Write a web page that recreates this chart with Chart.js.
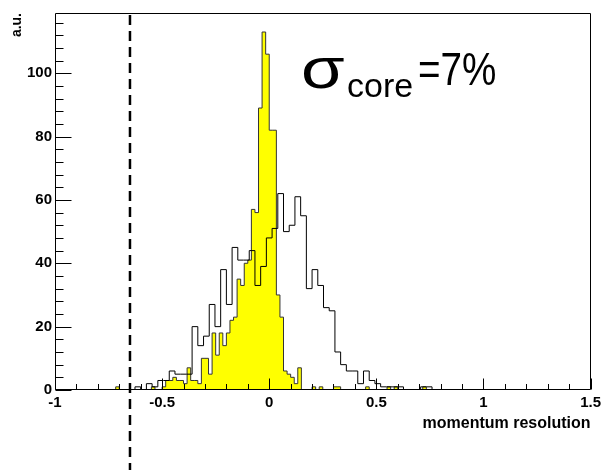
<!DOCTYPE html>
<html>
<head>
<meta charset="utf-8">
<script src="https://cdn.jsdelivr.net/npm/chart.js@4/dist/chart.umd.min.js"></script>
<style>
    html, body { margin: 0; padding: 0; background: #fff; }
    canvas { display: block; }
</style>
</head>
<body>
<canvas id="resChart" width="605" height="470"></canvas>
<script>
(function () {
    // filled histogram: 120 bins of width 1/60 between -1 and 1
    const filledRange = [-1, 1];
    const filledCounts = [
        0, 0, 0, 0, 0, 0, 0, 0, 0, 0,
        0, 0, 0, 0, 0, 0, 0, 1, 0, 0,
        0, 0, 0, 0, 0, 0, 0, 1, 0, 0,
        1, 3, 3, 4, 3, 3, 2, 7, 3, 3,
        2, 10, 10, 5, 18, 11, 18, 14, 18, 22,
        23, 35, 33, 40, 41, 57, 56, 89, 113, 106,
        82, 82, 30, 23, 6, 5, 4, 2, 7, 0,
        0, 0, 1, 0, 1, 0, 0, 0, 1, 1,
        0, 0, 0, 0, 0, 0, 0, 1, 0, 0,
        0, 0, 0, 1, 0, 1, 0, 0, 0, 0,
        0, 0, 0, 1, 0, 0, 0, 0, 0, 0,
        0, 0, 0, 0, 0, 0, 0, 0, 0, 0
    ];

    // open histogram: 75 bins between -1 and 1
    const outlineRange = [-1, 1];
    const outlineCounts = [
        0, 0, 0, 0, 0, 0, 0, 0, 0, 0,
        0, 0, 0, 0, 1, 0, 2, 1, 3, 3,
        6, 5, 5, 5, 20, 14, 17, 27, 20, 38,
        27, 45, 41, 41, 44, 33, 39, 48, 51, 62,
        50, 52, 61, 55, 32, 38, 33, 26, 25, 12,
        8, 6, 6, 2, 6, 3, 2, 1, 1, 1,
        1, 0, 0, 0, 1, 1, 0, 0, 0, 0,
        0, 0, 0, 0, 0
    ];

    const xTickValues = [-1, -0.5, 0, 0.5, 1, 1.5];
    const xTickLabels = ["-1", "-0.5", "0", "0.5", "1", "1.5"];
    const yTickValues = [0, 20, 40, 60, 80, 100];
    const yTickLabels = ["0", "20", "40", "60", "80", "100"];

    const X_MIN = -1, X_MAX = 1.5, Y_MAX = 119;
    const cutValue = -0.65;

    const FONT = "'Liberation Sans', Arial, Helvetica, sans-serif";

    // turn bin contents into step points (left edge of each bin, closing at the upper edge)
    function stepPoints(counts, range) {
        const w = (range[1] - range[0]) / counts.length;
        const pts = [{ x: range[0], y: 0 }];
        counts.forEach((c, i) => pts.push({ x: range[0] + i * w, y: c }));
        pts.push({ x: range[1], y: 0 });
        return pts;
    }

    function labelFor(values, labels) {
        return v => {
            const k = values.findIndex(t => Math.abs(t - v) < 1e-6);
            return k >= 0 ? labels[k] : "";
        };
    }

    // text squeezed or stretched horizontally
    function scaledText(ctx, text, x, y, sx) {
        ctx.save();
        ctx.translate(x, y);
        ctx.scale(sx, 1);
        ctx.fillText(text, 0, 0);
        ctx.restore();
    }

    const decor = {
        id: "decor",
        afterDatasetsDraw(chart) {
            const { ctx, chartArea: a, scales } = chart;
            const xs = scales.x, ys = scales.y;
            const L = Math.round(a.left) + 0.5;
            const R = Math.round(a.right) - 0.5;
            const T = Math.round(a.top) + 0.5;
            const B = Math.round(a.bottom) - 0.5;

            ctx.save();
            ctx.strokeStyle = "#000";
            ctx.lineWidth = 1;

            // frame
            ctx.beginPath();
            ctx.moveTo(L, T); ctx.lineTo(R, T); ctx.lineTo(R, B); ctx.lineTo(L, B); ctx.closePath();
            ctx.stroke();

            // y ticks, pointing inwards
            ctx.beginPath();
            for (let v = 0; v <= Y_MAX; v += 4) {
                const py = Math.round(ys.getPixelForValue(v)) + 0.5;
                const len = v % 20 === 0 ? 16 : 8;
                ctx.moveTo(L, py); ctx.lineTo(L + len, py);
            }
            // x ticks
            for (let i = 0; i <= 25; i++) {
                const v = X_MIN + i * 0.1;
                const px = Math.round(xs.getPixelForValue(v)) + 0.5;
                const len = i % 5 === 0 ? 11 : 5.5;
                ctx.moveTo(px, B); ctx.lineTo(px, B - len);
            }
            ctx.stroke();

            // cut line
            const cx = xs.getPixelForValue(cutValue);
            ctx.beginPath();
            ctx.setLineDash([10, 6]);
            ctx.lineWidth = 2.5;
            ctx.moveTo(cx, 15);
            ctx.lineTo(cx, 470);
            ctx.stroke();
            ctx.setLineDash([]);

            // axis titles
            ctx.fillStyle = "#000";
            ctx.font = "bold 16px " + FONT;
            ctx.textAlign = "right";
            ctx.textBaseline = "alphabetic";
            ctx.fillText("momentum resolution", a.right, 428);

            ctx.save();
            ctx.translate(21, a.top);
            ctx.rotate(-Math.PI / 2);
            ctx.font = "bold 14px " + FONT;
            ctx.textAlign = "right";
            ctx.fillText("a.u.", 0, 0);
            ctx.restore();

            // resolution label
            ctx.textAlign = "left";
            ctx.font = "58px " + FONT;
            scaledText(ctx, "\u03c3", 301, 88, 1.22);
            ctx.font = "34px " + FONT;
            ctx.fillText("core", 347, 97);
            ctx.font = "46px " + FONT;
            scaledText(ctx, "=7%", 418, 85, 0.84);

            ctx.restore();
        }
    };

    new Chart(document.getElementById("resChart"), {
        type: "line",
        data: {
            datasets: [
                {
                    data: stepPoints(outlineCounts, outlineRange),
                    stepped: true,
                    borderColor: "#000",
                    borderWidth: 1,
                    fill: false,
                    pointRadius: 0,
                    order: 0
                },
                {
                    data: stepPoints(filledCounts, filledRange),
                    stepped: true,
                    borderColor: "#333",
                    borderWidth: 1,
                    backgroundColor: "#ffff00",
                    fill: "origin",
                    pointRadius: 0,
                    order: 1
                }
            ]
        },
        options: {
            responsive: false,
            animation: false,
            devicePixelRatio: 1,
            layout: { padding: { left: 0, right: 12, top: 13, bottom: 0 } },
            plugins: {
                legend: { display: false },
                tooltip: { enabled: false }
            },
            scales: {
                x: {
                    type: "linear",
                    min: X_MIN,
                    max: X_MAX,
                    grid: { display: false, drawTicks: false },
                    border: { display: false },
                    ticks: {
                        stepSize: 0.5,
                        includeBounds: false,
                        maxRotation: 0,
                        autoSkip: false,
                        padding: 4,
                        color: "#000",
                        font: { family: FONT, size: 15, weight: "bold" },
                        callback: labelFor(xTickValues, xTickLabels)
                    },
                    afterFit: s => { s.height = 80; }
                },
                y: {
                    min: 0,
                    max: Y_MAX,
                    grid: { display: false, drawTicks: false },
                    border: { display: false },
                    ticks: {
                        stepSize: 20,
                        includeBounds: false,
                        padding: 3,
                        color: "#000",
                        font: { family: FONT, size: 15, weight: "bold" },
                        callback: labelFor(yTickValues, yTickLabels)
                    },
                    afterFit: s => { s.width = 55; }
                }
            }
        },
        plugins: [decor]
    });
})();
</script>
</body>
</html>
